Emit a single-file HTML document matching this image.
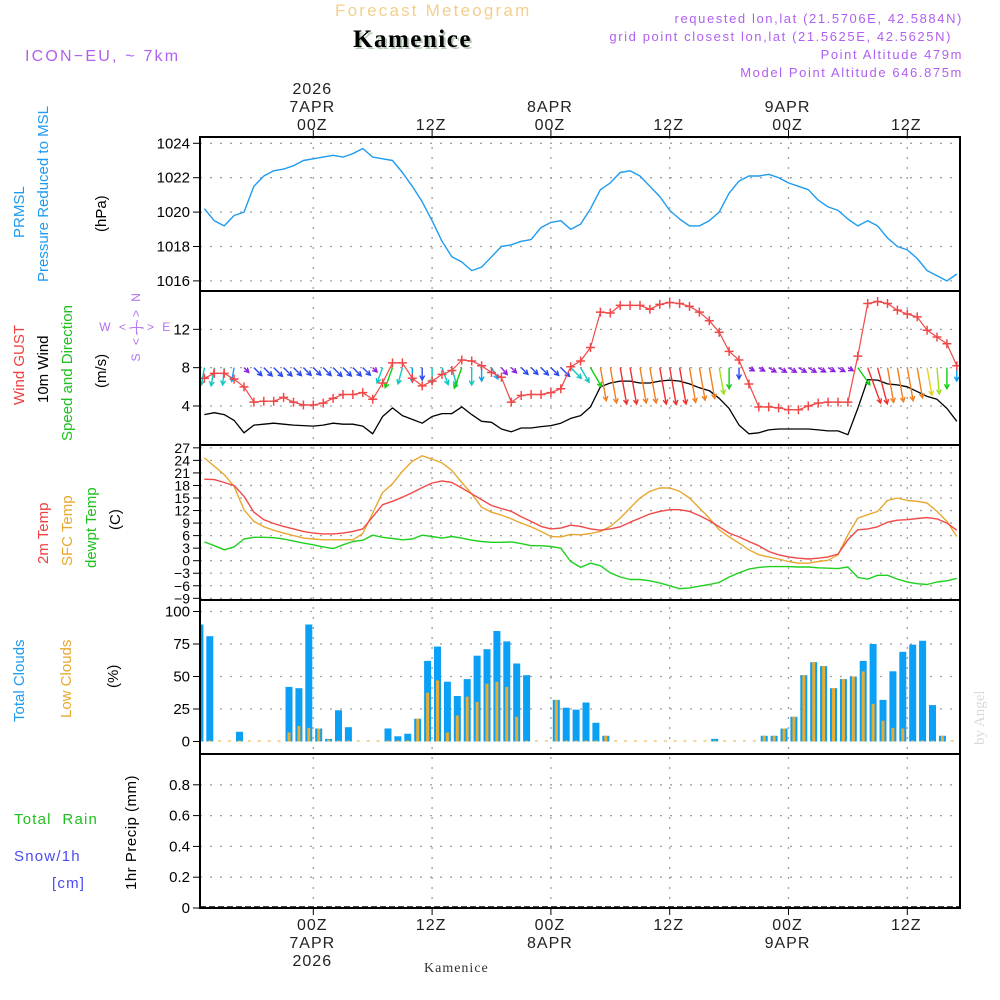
<!DOCTYPE html>
<html><head><meta charset="utf-8">
<style>
html,body{margin:0;padding:0;background:#fff;}
svg{display:block;}
text{font-family:"Liberation Sans",sans-serif;}
</style></head>
<body>
<svg id="chart" width="1000" height="1000" viewBox="0 0 1000 1000" xmlns="http://www.w3.org/2000/svg">
  <text x="335" y="16" font-size="17" fill="#f3cf8e" letter-spacing="2.2">Forecast Meteogram</text>
  <text x="355" y="49" font-size="25" font-weight="bold" style="font-family:'Liberation Serif',serif" fill="#b8cbb8" letter-spacing="1.5">Kamenice</text>
  <text x="353" y="47" font-size="25" font-weight="bold" style="font-family:'Liberation Serif',serif" fill="#000" letter-spacing="1.5">Kamenice</text>
  <text x="25" y="61" font-size="16" fill="#b060f0" letter-spacing="2.2">ICON−EU, ~ 7km</text>
  <g font-size="13" fill="#b060f0" text-anchor="end" letter-spacing="1.6">
    <text x="963" y="23">requested lon,lat (21.5706E, 42.5884N)</text>
    <text x="952" y="41">grid point closest lon,lat (21.5625E, 42.5625N)</text>
    <text x="963" y="59">Point Altitude 479m</text>
    <text x="963" y="77">Model Point Altitude 646.875m</text>
  </g>
  <text transform="translate(984,745) rotate(-90)" font-size="15" style="font-family:'Liberation Serif',serif" fill="#d6dcd6">by Angel</text>
  <text x="424" y="972" font-size="14" style="font-family:'Liberation Serif',serif" fill="#333" letter-spacing="1">Kamenice</text>

  <g font-size="15">
    <text transform="translate(24,238) rotate(-90)" fill="#1e9bf0">PRMSL</text>
    <text transform="translate(48,282) rotate(-90)" fill="#1e9bf0">Pressure Reduced to MSL</text>
    <text transform="translate(106,232) rotate(-90)" fill="#000">(hPa)</text>
  </g>
  <g font-size="15">
    <text transform="translate(24,405) rotate(-90)" fill="#f04040">Wind GUST</text>
    <text transform="translate(48,403) rotate(-90)" fill="#000">10m Wind</text>
    <text transform="translate(72,441) rotate(-90)" fill="#20c020">Speed and Direction</text>
    <text transform="translate(106,388) rotate(-90)" fill="#000">(m/s)</text>
  </g>
  <g font-size="12" fill="#b070f0">
    <text x="136" y="331" text-anchor="middle" fill="#b070f0" letter-spacing="2.5" xml:space="preserve">W &lt;-|-&gt; E</text>
    <text transform="translate(140,326) rotate(-90)" text-anchor="middle" fill="#b070f0" letter-spacing="2.5" xml:space="preserve">S &lt;-|-&gt; N</text>
  </g>
  <g font-size="15">
    <text transform="translate(48,564) rotate(-90)" fill="#f04040">2m Temp</text>
    <text transform="translate(72,566) rotate(-90)" fill="#e8a830">SFC Temp</text>
    <text transform="translate(96,568) rotate(-90)" fill="#20c020">dewpt Temp</text>
    <text transform="translate(120,530) rotate(-90)" fill="#000">(C)</text>
  </g>
  <g font-size="15">
    <text transform="translate(24,722) rotate(-90)" fill="#1e9bf0">Total Clouds</text>
    <text transform="translate(71,718) rotate(-90)" fill="#e8a830">Low Clouds</text>
    <text transform="translate(118,688) rotate(-90)" fill="#000">(%)</text>
  </g>
  <g font-size="15" letter-spacing="1.2">
    <text x="14" y="824" fill="#20c020" xml:space="preserve">Total  Rain</text>
    <text x="14" y="861" fill="#4a4af0">Snow/1h</text>
    <text x="52" y="888" fill="#4a4af0">[cm]</text>
    <text transform="translate(136,890) rotate(-90)" fill="#000" letter-spacing="0.5">1hr Precip (mm)</text>
  </g>

  <g id="grid"></g>
  <g id="marks"></g>
  <g id="frame"></g>
  <g id="ticks"></g>
</svg>
<script>
const hourOffsets = [];
for (let i = 0; i < 77; i++) hourOffsets.push(i - 11);
const pressure = [1020.2,1019.5,1019.2,1019.8,1020.0,1021.5,1022.1,1022.4,1022.5,1022.7,1023.0,1023.1,1023.2,1023.3,1023.2,1023.4,1023.7,1023.2,1023.1,1023.0,1022.3,1021.5,1020.6,1019.5,1018.3,1017.4,1017.1,1016.6,1016.8,1017.4,1018.0,1018.1,1018.3,1018.4,1019.1,1019.4,1019.5,1019.0,1019.3,1020.2,
1021.3,1021.7,1022.3,1022.4,1022.1,1021.5,1020.9,1020.1,1019.6,1019.2,1019.2,1019.5,1020.0,1021.1,1021.8,1022.1,1022.1,1022.2,1022.0,1021.7,1021.5,1021.3,1020.7,1020.3,1020.1,1019.6,1019.2,1019.5,1019.2,1018.5,1018.0,1017.8,1017.3,1016.6,1016.3,1016.0,1016.4];
const windGust = [6.9,7.4,7.4,6.8,6.0,4.4,4.5,4.5,4.9,4.4,4.1,4.1,4.3,4.8,5.2,5.2,5.4,4.7,6.4,8.5,8.5,6.9,6.1,6.6,7.3,7.7,8.8,8.7,8.2,7.5,7.0,4.4,5.1,5.2,5.2,5.4,5.8,8.1,8.7,10.1,
13.8,13.7,14.5,14.5,14.5,14.1,14.6,14.8,14.7,14.4,13.8,12.9,11.7,9.7,8.8,6.3,3.9,3.9,3.8,3.6,3.6,4.0,4.3,4.4,4.4,4.4,9.2,14.7,14.9,14.7,14.0,13.6,13.3,11.9,11.2,10.5,8.2];
const windSpeed = [3.1,3.3,3.1,2.5,1.2,2.0,2.1,2.2,2.1,2.0,1.95,1.9,2.0,2.2,2.1,2.1,1.9,1.1,2.9,3.8,3.0,2.6,2.2,2.9,3.2,3.2,3.9,3.1,2.4,2.3,1.6,1.3,1.7,1.7,1.85,1.95,2.2,2.7,3.0,3.9,
6.0,6.4,6.6,6.6,6.4,6.4,6.6,6.7,6.6,6.3,5.9,5.6,4.8,3.75,2.0,1.1,1.2,1.5,1.6,1.6,1.6,1.6,1.5,1.4,1.4,1.0,3.75,6.75,6.7,6.3,6.2,6.0,5.5,5.0,4.7,3.75,2.4];
const windDir = [10,10,5,10,315,315,315,315,315,315,315,315,315,315,315,315,315,315,20,20,15,0,0,0,340,345,20,0,0,330,320,315,315,315,315,315,315,315,330,330,
350,350,350,350,350,350,350,350,350,350,350,350,350,0,0,300,300,300,300,300,300,300,300,300,300,300,325,340,345,350,350,350,350,350,355,0,0];
const temp2m = [19.5,19.4,18.7,18.0,15.4,11.6,9.8,8.9,8.2,7.6,7.0,6.6,6.4,6.4,6.6,7.0,7.6,10.5,13.4,14.2,15.2,16.3,17.5,18.6,19.1,18.7,17.4,16.0,14.6,13.2,12.5,11.8,10.5,9.4,8.2,7.6,7.8,8.5,8.2,7.6,
7.3,7.6,8.1,9.2,10.2,11.2,11.8,12.2,12.2,11.8,10.8,9.6,8.1,6.6,5.7,4.6,3.6,2.2,1.4,0.9,0.6,0.4,0.6,0.9,1.6,5.0,7.4,7.6,8.1,9.2,9.7,9.8,10.1,10.3,10.0,9.0,7.3];
const tempSfc = [24.6,22.6,20.6,17.8,12.2,9.4,8.1,7.3,6.6,6.0,5.4,5.2,5.0,5.0,5.0,5.0,6.5,11.4,16.3,18.4,21.4,23.8,25.1,24.3,23.4,21.6,18.7,16.0,12.8,11.6,10.9,10.0,9.0,8.1,7.0,5.8,5.7,6.3,6.2,6.5,
7.0,8.2,10.2,12.6,15.0,16.6,17.4,17.4,16.6,15.0,12.6,10.2,7.4,5.7,4.2,2.6,1.4,0.9,0.4,-0.2,-0.6,-0.6,-0.2,0.1,1.4,6.2,10.2,11.0,11.8,14.4,15.0,14.4,14.2,13.8,11.8,9.4,5.8];
const dewpoint = [4.5,3.6,2.6,3.3,5.2,5.6,5.6,5.5,5.2,4.7,4.2,3.8,3.3,2.9,3.8,4.6,4.9,6.1,5.6,5.3,5.0,5.2,6.1,5.8,5.4,5.8,5.4,4.9,4.6,4.4,4.4,4.5,4.1,3.6,3.6,3.4,3.0,-0.2,-1.6,-0.6,
-1.2,-2.9,-3.9,-4.5,-4.5,-4.8,-5.3,-6.0,-6.7,-6.5,-6.1,-5.7,-5.2,-3.9,-2.9,-2.0,-1.6,-1.4,-1.4,-1.4,-1.5,-1.5,-1.7,-1.8,-1.9,-1.5,-4.0,-4.4,-3.5,-3.5,-4.4,-5.1,-5.5,-5.7,-5.1,-4.8,-4.2];
const totalClouds = [90,81,0,0,7.5,0,0,0,0,42,41,90,10,2,24,11,0,0,0,10,4,6,17.5,62,73,46,35,48,66,71,85,77,60,51,0,0,32,26,24.5,30,
14.4,4.4,0,0,0,0,0,0,0,0,0,0,2,0,0,0,0,4.4,4.4,10,19,51,61,58,41,48,50,62,75,32,54,69,74.5,77.5,28,4.4,0];
const lowClouds = [0,0,0,0,0,0,0,0,0,7,12,10.5,10,1.5,0,0,0,0,0,0,0,0,17.5,37.5,47,7,20,34.5,30.5,44.5,46,42,19,0,0,0,32,0,0,0,
0,4.4,0,0,0,0,0,0,0,0,0,0,0,0,0,0,0,4.4,4.4,10,19,51,61,58,41,48,50,54,29,16,10.5,10,0,0,0,4.4,0];
const precip = new Array(77).fill(0);
const pressureTicks = [1016,1018,1020,1022,1024];
const windTicks = [4,8,12];
const tempTicks = [27,24,21,18,15,12,9,6,3,0,-3,-6,-9];
const cloudTicks = [0,25,50,75,100];
const precipTicks = [0,0.2,0.4,0.6,0.8];
const timeTicks = [0,12,24,36,48,60];
const topTimeLabels = [["2026","7APR","00Z"],["","","12Z"],["","8APR","00Z"],["","","12Z"],["","9APR","00Z"],["","","12Z"]];

const L = 200, R = 960;
const xh = h => 313.3 + 9.9 * h;
const yP = p => 143.3 + (1024 - p) * 17.2;
const yW = v => 444.3 - 9.58 * v;
const yT = t => 560.7 - 4.18 * t;
const yC = c => 741.5 - 1.3 * c;
const yR = r => 908 - 154 * r;
const panels = [[137,291],[291,445],[445,600],[600,754],[754,908]];

const NS = "http://www.w3.org/2000/svg";
function mk(tag, attrs, parent){
  const e = document.createElementNS(NS, tag);
  for (const k in attrs) e.setAttribute(k, attrs[k]);
  parent.appendChild(e);
  return e;
}
const grid = document.getElementById('grid');
const marks = document.getElementById('marks');
const frame = document.getElementById('frame');
const ticks = document.getElementById('ticks');

const defs = mk('defs', {}, document.getElementById('chart'));
const cp = mk('clipPath', {id:'plotclip'}, defs);
mk('rect', {x:L, y:137, width:R-L, height:771}, cp);

function hgrid(vals, yf, name){
  vals.forEach(v => {
    const l = mk('line', {x1:L, x2:R, y1:yf(v), y2:yf(v), stroke:'#a0a0a0', 'stroke-width':1.3, 'stroke-dasharray':'2,8'}, grid);
    
    
  });
}
function ylabels(vals, yf, name, fmt, fs){
  vals.forEach(v => {
    const y = yf(v);
    const tk = mk('line', {x1:193, x2:L, y1:y, y2:y, stroke:'#000', 'stroke-width':1}, ticks);
    
    
    const t = mk('text', {x:190, y:y + 5, 'text-anchor':'end', 'font-size':fs || 15, fill:'#000'}, ticks);
    t.textContent = fmt ? fmt(v) : String(v);
    
    
  });
}
hgrid(pressureTicks, yP, 'pressure');
hgrid(windTicks, yW, 'wind');
hgrid(tempTicks, yT, 'temp');
hgrid(cloudTicks.slice(1), yC, 'cloud');
hgrid(precipTicks.slice(1), yR, 'precip');
ylabels(pressureTicks, yP, 'pressure');
ylabels(windTicks, yW, 'wind');
ylabels(tempTicks, yT, 'temp', v => v < 0 ? '−' + (-v) : String(v), 14);
ylabels(cloudTicks, yC, 'cloud');
ylabels(precipTicks, yR, 'precip', v => v === 0 ? '0' : v.toFixed(1));

timeTicks.forEach((h, j) => {
  const x = xh(h);
  const g = mk('line', {x1:x, x2:x, y1:137, y2:908, stroke:'#a0a0a0', 'stroke-width':1.3, 'stroke-dasharray':'2,8'}, grid);
  
  
  const t1 = mk('line', {x1:x, x2:x, y1:130, y2:137, stroke:'#000'}, ticks);
  
  
  const t2 = mk('line', {x1:x, x2:x, y1:908, y2:915, stroke:'#000'}, ticks);
  
  
  const lab = topTimeLabels[j];
  lab.forEach((s, k) => {
    if (!s) return;
    const tt = mk('text', {x:x - 1, y:94 + k * 18, 'text-anchor':'middle', 'font-size':16, fill:'#222', 'letter-spacing':'1'}, ticks);
    tt.textContent = s;
    
    
    const bb = mk('text', {x:x - 1, y:930 + (2 - k) * 18, 'text-anchor':'middle', 'font-size':16, fill:'#222', 'letter-spacing':'1'}, ticks);
    bb.textContent = s;
    
    
  });
});

panels.forEach((p, i) => {
  const r = mk('rect', {x:L, y:p[0], width:R-L, height:p[1]-p[0], fill:'none', stroke:'#000', 'stroke-width':2}, frame);
  
  
});

function linePath(arr, yf, color, name, w){
  const d = arr.map((v, i) => (i ? 'L' : 'M') + xh(hourOffsets[i]).toFixed(1) + ',' + yf(v).toFixed(1)).join('');
  const p = mk('path', {d:d, fill:'none', stroke:color, 'stroke-width':w || 1.4, 'stroke-linejoin':'round', 'clip-path':'url(#plotclip)'}, marks);
  
  
}

linePath(pressure, yP, '#1e9bf0', 'pressure-line');

totalClouds.forEach((v, i) => {
  const x = xh(hourOffsets[i]) - 4.5;
  if (v > 0) {
    const b = mk('rect', {x:x - 3.5, y:yC(v), width:7, height:yC(0) - yC(v), fill:'#0aa0f5', 'clip-path':'url(#plotclip)'}, marks);
    
    
  }
  const lv = lowClouds[i];
  const o = mk('rect', {x:x - 1.5, y:yC(lv) - (lv > 0 ? 0 : 1), width:3, height:Math.max(1, yC(0) - yC(lv)), fill:'#e8ac30', 'clip-path':'url(#plotclip)'}, marks);
  
  
});

const pz = mk('line', {x1:L, x2:R, y1:yR(0) - 1, y2:yR(0) - 1, stroke:'#000', 'stroke-width':1.5, 'stroke-dasharray':'6,3'}, marks);



linePath(dewpoint, yT, '#20d020', 'dewpoint-line');
linePath(tempSfc, yT, '#e8a830', 'sfc-temp-line');
linePath(temp2m, yT, '#f04848', '2m-temp-line');

linePath(windSpeed, yW, '#000', 'wind-speed-line', 1.3);

function speedColor(s){
  if (s < 1.7) return '#8a20e0';
  if (s < 2.3) return '#2848f0';
  if (s < 2.7) return '#10a0f0';
  if (s < 3.5) return '#10c8c0';
  if (s < 4.2) return '#10d010';
  if (s < 5.0) return '#a0e020';
  if (s < 5.5) return '#e8d020';
  if (s < 6.5) return '#f08020';
  return '#f03030';
}
windSpeed.forEach((s, i) => {
  const x0 = xh(hourOffsets[i]), y0 = yW(8);
  const a = windDir[i] * Math.PI / 180;
  const len = Math.max(6, 5.6 * s);
  const dx = -Math.sin(a), dy = Math.cos(a);
  const x1 = x0 + dx * len, y1 = y0 + dy * len;
  const c = speedColor(s);
  const hl = 5, ang = 0.5;
  const bx = -dx, by = -dy;
  const h1x = x1 + hl * (bx * Math.cos(ang) - by * Math.sin(ang)), h1y = y1 + hl * (bx * Math.sin(ang) + by * Math.cos(ang));
  const h2x = x1 + hl * (bx * Math.cos(-ang) - by * Math.sin(-ang)), h2y = y1 + hl * (bx * Math.sin(-ang) + by * Math.cos(-ang));
  const p = mk('path', {d:`M${x0},${y0}L${x1},${y1}M${h1x},${h1y}L${x1},${y1}L${h2x},${h2y}`, stroke:c, 'stroke-width':1.4, fill:'none', 'clip-path':'url(#plotclip)'}, marks);
  
  
});

linePath(windGust, yW, '#f04848', 'wind-gust-line', 1.2);
windGust.forEach((v, i) => {
  const x = xh(hourOffsets[i]), y = yW(v);
  const m = mk('path', {d:`M${x-4.5},${y}H${x+4.5}M${x},${y-4.5}V${y+4.5}`, stroke:'#f04848', 'stroke-width':1.5, 'clip-path':'url(#plotclip)'}, marks);
  
  
});
</script>
</body></html>
